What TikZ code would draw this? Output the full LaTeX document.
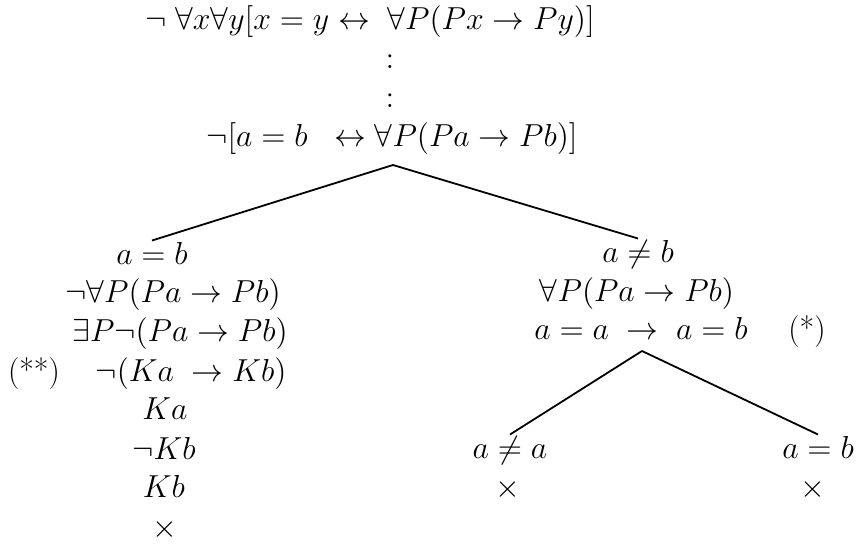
\RequirePackage{fix-cm}
\documentclass[tikz,border=0pt]{standalone}
\usepackage{amsmath}
\usepackage{amssymb}
\usetikzlibrary{positioning}
\tikzset{
  fml/.style={inner sep=1pt,anchor=base,font=\fontsize{15.9}{19}\selectfont},
  tg/.style={fml},
  brn/.style={line width=0.9pt,black},
}

\begin{document}
\begin{tikzpicture}[x=0.5pt,y=-0.5pt]
    \useasboundingbox (0,0) rectangle (857,544);
    % trunk
    \node[fml] (top) at (370,30) {$\neg\;\forall x\forall y[x = y \leftrightarrow\;\forall P(Px \to Py)]$};
    \node[fml,anchor=center] (d1) at (390,62) {$:$};
    \node[fml,anchor=center] (d2) at (390,101) {$:$};
    \node[fml] (root) at (392,147) {$\neg[a = b\;\;\leftrightarrow \forall P(Pa \to Pb)]$};
    \coordinate (split) at (393,165);
    % left branch
    \node[fml] (l1) at (152,265) {$a = b$};
    \node[fml] (l2) at (173,303) {$\neg\forall P(Pa \to Pb)$};
    \node[fml] (l3) at (180,342) {$\exists P\neg(Pa \to Pb)$};
    \node[fml] (l4) at (191,382) {$\neg(Ka\;\to Kb)$};
    \node[tg] (t2) at (34,382) {(**)};
    \node[fml] (l5) at (165,420) {$Ka$};
    \node[fml] (l6) at (164,460) {$\neg Kb$};
    \node[fml] (l7) at (164,498) {$Kb$};
    \node[fml,anchor=center] (l8) at (165,530) {$\times$};
    % right branch
    \node[fml] (r1) at (638,263) {$a \neq b$};
    \node[fml] (r2) at (637,302) {$\forall P(Pa \to Pb)$};
    \node[fml] (r3) at (641,340) {$a = a\;\to\;a = b$};
    \node[tg] (t1) at (807,340) {(*)};
    \coordinate (fork) at (642,351);
    \node[fml] (rl) at (510,459) {$a \neq a$};
    \node[fml] (rr) at (818,459) {$a = b$};
    \node[fml,anchor=center] (xl) at (508,490) {$\times$};
    \node[fml,anchor=center] (xr) at (813,490) {$\times$};
    \draw[brn] (split) -- (l1.north);
    \draw[brn] (split) -- (r1.north);
    \draw[brn] (fork) -- (rl.north);
    \draw[brn] (fork) -- (rr.north);
  \end{tikzpicture}
\end{document}
